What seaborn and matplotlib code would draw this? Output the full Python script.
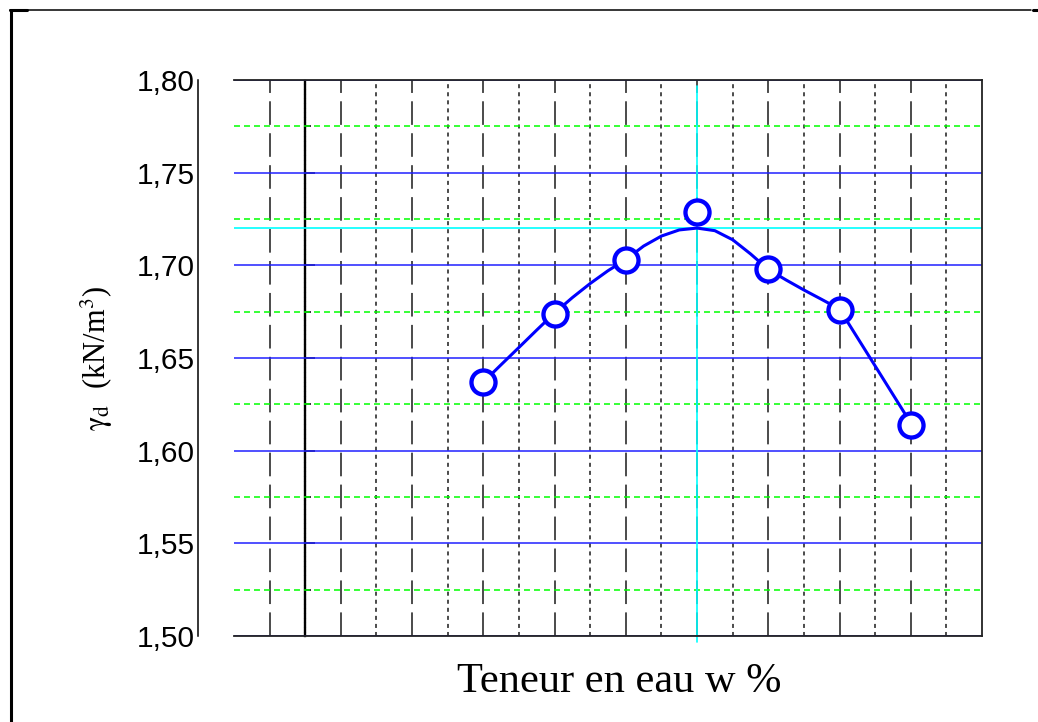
import numpy as np
import matplotlib
matplotlib.use("Agg")
import matplotlib.pyplot as plt
from matplotlib.lines import Line2D
from matplotlib.ticker import FixedLocator, FuncFormatter, NullFormatter
import seaborn as sns

# Proctor test: measured dry unit weight vs water content
w_points = [5, 7, 9, 11, 13, 15, 17]
gd_points = [1.637, 1.674, 1.703, 1.729, 1.698, 1.676, 1.614]

# smoothed compaction curve through the measurements
curve_w = [5, 5.5, 6, 6.5, 7, 7.5, 8, 8.5, 9, 9.5, 10, 10.5, 11, 11.5,
           12, 12.5, 13, 13.5, 14, 14.5, 15, 16, 17]
curve_gd = [1.6370, 1.6464, 1.6557, 1.6651, 1.6743, 1.6826, 1.6902, 1.6971,
            1.7031, 1.7104, 1.7158, 1.7191, 1.7201, 1.7187, 1.7138, 1.7062,
            1.6978, 1.6921, 1.6867, 1.6816, 1.6764, 1.6457, 1.6149]

# optimum water content and maximum dry unit weight
w_opt = 11
gd_max = 1.72

y_ticks = [1.50, 1.55, 1.60, 1.65, 1.70, 1.75, 1.80]
y_minor = [1.525, 1.575, 1.625, 1.675, 1.725, 1.775]
x_major_grid = [-1, 1, 3, 5, 7, 9, 11, 13, 15, 17]
x_minor_grid = [2, 4, 6, 8, 10, 12, 14, 16, 18]

sns.set_style("white")
plt.rcParams["font.family"] = ["Liberation Sans", "DejaVu Sans"]
plt.rcParams["mathtext.fontset"] = "stix"
plt.rcParams["lines.scale_dashes"] = False

DPI = 100
fig = plt.figure(figsize=(10.38, 7.22), dpi=DPI)
ax = fig.add_axes([234 / 1038, 1 - 636 / 722, 748 / 1038, 556 / 722])

ax.set_xlim(-2, 19)
ax.set_ylim(1.50, 1.80)

# grid: blue solid / green dashed horizontals, black dashed / dotted verticals
ax.yaxis.set_major_locator(FixedLocator(y_ticks))
ax.yaxis.set_minor_locator(FixedLocator(y_minor))
ax.xaxis.set_major_locator(FixedLocator(x_major_grid))
ax.xaxis.set_minor_locator(FixedLocator(x_minor_grid))
ax.set_axisbelow(True)
ax.yaxis.grid(True, which="major", color="#2020ff", lw=1.1, ls="-")
ax.yaxis.grid(True, which="minor", color="#00ff00", lw=1.1, ls=(0, (4.3, 2.9)))
ax.xaxis.grid(True, which="major", color="#1a1a1a", lw=1.1, ls=(0, (17, 6)))
ax.xaxis.grid(True, which="minor", color="#1a1a1a", lw=1.1, ls=(0, (2.9, 2.9)))

ax.axhline(gd_max, color="#00ffff", lw=1.2, zorder=1)
ax.axvline(w_opt, color="#00ffff", lw=1.2, ymin=-0.01, ymax=0.99, clip_on=False, zorder=1)

# compaction curve and measured points
sns.lineplot(x=curve_w, y=curve_gd, ax=ax, color="#0000ff", lw=2.2,
             sort=False, estimator=None, zorder=3)
sns.scatterplot(x=w_points, y=gd_points, ax=ax, marker="o", s=300,
                facecolor="white", edgecolor="#0000ff", linewidth=3.1, zorder=4)

# axis frame
for side in ["top", "right", "bottom"]:
    ax.spines[side].set_color("#222222")
    ax.spines[side].set_linewidth(1.3)
ax.spines["left"].set_position(("outward", 26))
ax.spines["left"].set_color("black")
ax.spines["left"].set_linewidth(1.1)

ax.tick_params(axis="x", which="both", length=0, labelbottom=False)
ax.tick_params(axis="y", which="both", length=0, pad=2, labelsize=21.5, labelcolor="black")
ax.yaxis.set_major_formatter(FuncFormatter(lambda v, p: f"{v:.2f}".replace(".", ",")))
ax.yaxis.set_minor_formatter(NullFormatter())

# dotted axis line at w = 0 with inward ticks
sec = ax.secondary_yaxis(0, transform=ax.transData)
sec.yaxis.set_major_locator(FixedLocator(y_ticks[1:-1]))
sec.yaxis.set_minor_locator(FixedLocator(y_minor))
sec.yaxis.set_major_formatter(NullFormatter())
sec.yaxis.set_minor_formatter(NullFormatter())
sec.tick_params(which="major", direction="in", length=7.5, width=1.1, color="black")
sec.tick_params(which="minor", direction="in", length=4.5, width=1.1, color="black")
sec.spines["left"].set_linestyle((0, (1.8, 1.6)))
sec.spines["left"].set_linewidth(1.7)
sec.spines["left"].set_color("black")

ax.set_xlabel("Teneur en eau w %", family="Liberation Serif", fontsize=30.5, color="black")
ax.xaxis.set_label_coords(0.515, -0.048)
ax.set_ylabel(r"$\mathrm{\gamma_d}$  (kN/m$^3$)", family="Liberation Serif",
              fontsize=22, color="black")
ax.yaxis.label.set_va("center")
ax.yaxis.set_label_coords(-0.183, 0.5)

# page frame lines
fig.add_artist(Line2D([10.5 / 1038, 10.5 / 1038], [0, 1 - 9.5 / 722],
                      transform=fig.transFigure, color="black", lw=2.2))
fig.add_artist(Line2D([10 / 1038, 1031 / 1038], [1 - 9.5 / 722, 1 - 9.5 / 722],
                      transform=fig.transFigure, color="black", lw=1.1))
fig.add_artist(Line2D([10 / 1038, 27 / 1038], [1 - 10 / 722, 1 - 10 / 722],
                      transform=fig.transFigure, color="black", lw=2.2))
fig.add_artist(Line2D([1033 / 1038, 1038 / 1038], [1 - 10 / 722, 1 - 10 / 722],
                      transform=fig.transFigure, color="black", lw=2.2))

fig.savefig("out.png", dpi=DPI, facecolor="white")
